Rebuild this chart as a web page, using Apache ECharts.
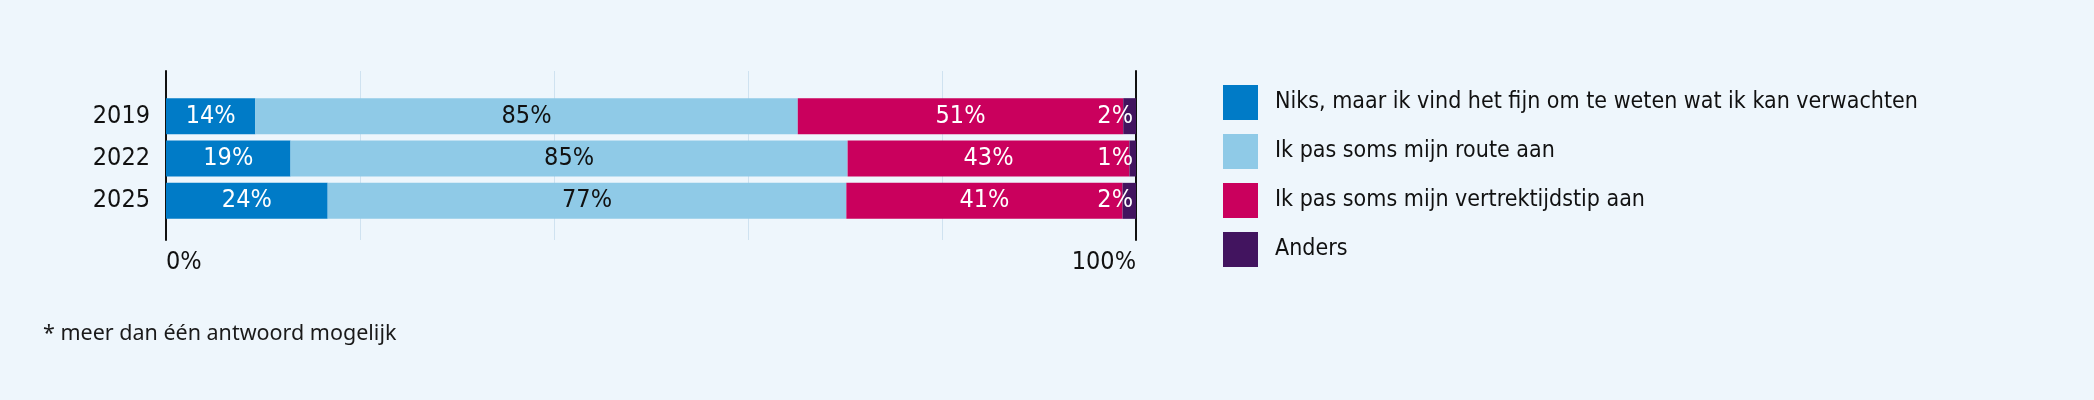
<!DOCTYPE html>
<html>
<head>
<meta charset="utf-8">
<script src="https://cdn.jsdelivr.net/npm/echarts@6/dist/echarts.min.js"></script>
<style>
html,body{margin:0;padding:0;background:#EEF6FC;}
#c{width:2094px;height:400px;}
</style>
</head>
<body>
<div id="c"></div>
<script>
const years = ['2019', '2022', '2025'];
const seriesNames = [
  'Niks, maar ik vind het fijn om te weten wat ik kan verwachten',
  'Ik pas soms mijn route aan',
  'Ik pas soms mijn vertrektijdstip aan',
  'Anders'
];
const niks = [14, 19, 24];
const route = [85, 85, 77];
const vertrek = [51, 43, 41];
const anders = [2, 1, 2];
const footnote = '* meer dan één antwoord mogelijk';

const raw = [niks, route, vertrek, anders];
const totals = years.map((_, i) => raw.reduce((s, arr) => s + arr[i], 0));
const colors = ['#007BC7', '#8FCAE7', '#CA005D', '#42145F'];
const labelColors = ['#ffffff', '#111111', '#ffffff', '#ffffff'];
const FONT = "'Liberation Sans Narrow', 'DejaVu Sans Condensed', 'Arial Narrow', sans-serif";

const chart = echarts.init(document.getElementById('c'));
const series = raw.map((arr, k) => ({
  name: seriesNames[k],
  type: 'bar',
  stack: 'tot',
  xAxisIndex: 1,
  yAxisIndex: 2,
  barWidth: 36,
  itemStyle: { color: colors[k] },
  label: {
    show: true,
    position: k === 3 ? 'insideRight' : 'inside',
    distance: 3,
    color: labelColors[k],
    fontFamily: FONT,
    fontSize: 25,
    formatter: p => arr[p.dataIndex] + '%'
  },
  data: arr.map((v, i) => v / totals[i] * 100)
}));

chart.setOption({
  backgroundColor: '#EEF6FC',
  animation: false,
  title: {
    text: footnote,
    left: 38,
    top: 318,
    textStyle: { fontFamily: "'Noto Sans', 'Open Sans', sans-serif", fontWeight: 'normal', fontSize: 21.5, color: '#1a1a1a' }
  },
  legend: {
    orient: 'vertical',
    left: 1223,
    top: 85,
    padding: 0,
    itemWidth: 35,
    itemHeight: 35,
    itemGap: 14,
    icon: 'rect',
    data: seriesNames,
    textStyle: { fontFamily: FONT, fontSize: 23, color: '#111111', padding: [0, 0, 0, 12] }
  },
  grid: [
    { left: 166, right: 958, top: 71, height: 169 },
    { left: 166, right: 958, top: 95, height: 127 }
  ],
  xAxis: [
    {
      gridIndex: 0, type: 'value', min: 0, max: 100, interval: 20,
      axisLine: { show: false }, axisTick: { show: false },
      splitLine: { show: true, lineStyle: { color: '#CFE2F0', width: 1 } },
      axisLabel: {
        margin: 10, fontFamily: FONT, fontSize: 25, color: '#111111',
        alignMinLabel: 'left', alignMaxLabel: 'right',
        formatter: v => (v === 0 || v === 100) ? v + '%' : ''
      }
    },
    { gridIndex: 1, type: 'value', min: 0, max: 100, show: false }
  ],
  yAxis: [
    {
      gridIndex: 0, type: 'value', position: 'left',
      axisLine: { show: true, lineStyle: { color: '#111111', width: 2 } },
      axisTick: { show: false }, axisLabel: { show: false }, splitLine: { show: false }
    },
    {
      gridIndex: 0, type: 'value', position: 'right',
      axisLine: { show: true, lineStyle: { color: '#111111', width: 2 } },
      axisTick: { show: false }, axisLabel: { show: false }, splitLine: { show: false }
    },
    {
      gridIndex: 1, type: 'category', data: years, inverse: true,
      axisLine: { show: false }, axisTick: { show: false },
      axisLabel: { margin: 16, fontFamily: FONT, fontSize: 25, color: '#111111' }
    }
  ],
  series: series
});
</script>
</body>
</html>
